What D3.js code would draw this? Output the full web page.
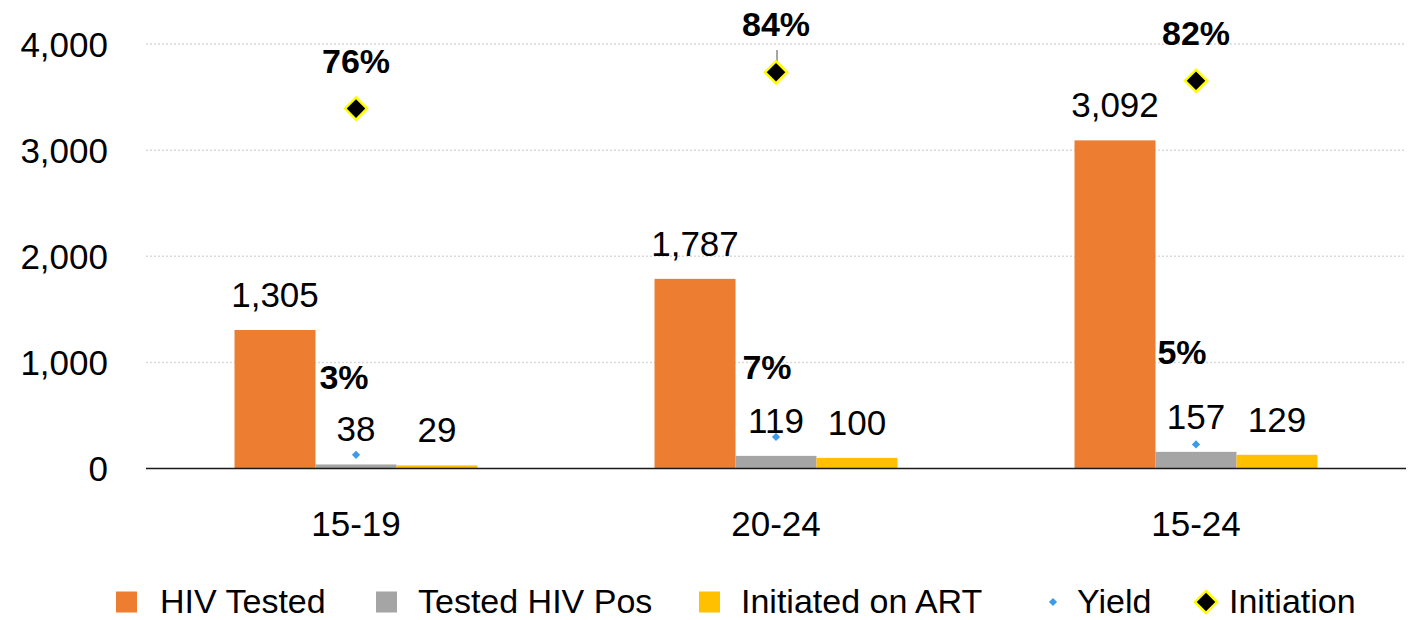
<!DOCTYPE html>
<html>
<head>
<meta charset="utf-8">
<script src="https://cdn.jsdelivr.net/npm/d3@7"></script>
<style>
  body { margin: 0; background: #fff; }
  text { font-family: "Liberation Sans", Arial, sans-serif; fill: #000; }
</style>
</head>
<body>
<script>

var ageGroups = ["15-19", "20-24", "15-24"];
var hivTested = [1305, 1787, 3092];
var testedPos = [38, 119, 157];
var initiatedArt = [29, 100, 129];
var yieldPct = [0.029, 0.067, 0.051];
var yieldLabels = ["3%", "7%", "5%"];
var initiationPct = [0.763, 0.840, 0.822];
var initiationLabels = ["76%", "84%", "82%"];
var yTicks = [0, 1000, 2000, 3000, 4000];

var barSeries = [
  { name: "HIV Tested", values: hivTested, color: "#ED7D31" },
  { name: "Tested HIV Pos", values: testedPos, color: "#A5A5A5" },
  { name: "Initiated on ART", values: initiatedArt, color: "#FFC000" }
];

// yield labels were dragged by hand in the original, keep the nudges apart
var yieldNudge = [[-12, -66], [-9, -58], [-14, -80]];

var W = 1413, H = 620;
var plotLeft = 146, plotRight = 1406, plotTop = 44, plotBottom = 468.5;

var svg = d3.select("body").append("svg")
    .attr("width", W)
    .attr("height", H);

var x = d3.scaleBand().domain(ageGroups).range([plotLeft, plotRight]).paddingInner(0).paddingOuter(0);
var inner = d3.scaleBand().domain(barSeries.map(function(s){ return s.name; }))
    .range([0, x.bandwidth()]).paddingInner(0).paddingOuter(1.093);
var y = d3.scaleLinear().domain([0, 4000]).range([plotBottom, plotTop]);
var y2 = d3.scaleLinear().domain([0, 0.9]).range([plotBottom, plotTop]);

// gridlines
svg.append("g").selectAll("line")
  .data(yTicks.filter(function(d){ return d > 0; }))
  .enter().append("line")
  .attr("x1", plotLeft).attr("x2", plotRight)
  .attr("y1", function(d){ return y(d); }).attr("y2", function(d){ return y(d); })
  .attr("stroke", "#d9d9d9")
  .attr("stroke-width", 1.5)
  .attr("stroke-dasharray", "2,2");

// y axis labels
var yAxis = d3.axisLeft(y).tickValues(yTicks).tickSize(0).tickPadding(0).tickFormat(d3.format(","));
var ga = svg.append("g").attr("transform", "translate(108,0)").call(yAxis);
ga.select(".domain").remove();
ga.selectAll("text").attr("font-size", 35).attr("font-family", "Liberation Sans, Arial, sans-serif")
  .attr("fill", "#000").attr("dy", "0.35em");

// bars
barSeries.forEach(function(s){
  var g = svg.append("g");
  g.selectAll("rect")
    .data(s.values)
    .enter().append("rect")
    .attr("x", function(d, i){ return x(ageGroups[i]) + inner(s.name); })
    .attr("width", inner.bandwidth())
    .attr("y", function(d){ return y(d); })
    .attr("height", function(d){ return plotBottom - y(d); })
    .attr("fill", s.color);

  g.selectAll("text")
    .data(s.values)
    .enter().append("text")
    .attr("x", function(d, i){ return x(ageGroups[i]) + inner(s.name) + inner.bandwidth() / 2; })
    .attr("y", function(d){ return y(d) - 23; })
    .attr("text-anchor", "middle")
    .attr("font-size", 35)
    .text(function(d){ return d3.format(",")(d); });
});

// baseline
svg.append("line")
  .attr("x1", plotLeft).attr("x2", plotRight)
  .attr("y1", y(0)).attr("y2", y(0))
  .attr("stroke", "#1a1a1a").attr("stroke-width", 1.5);

// category labels
svg.append("g").selectAll("text")
  .data(ageGroups)
  .enter().append("text")
  .attr("x", function(d){ return x(d) + x.bandwidth() / 2; })
  .attr("y", 536)
  .attr("text-anchor", "middle")
  .attr("font-size", 35)
  .text(function(d){ return d; });

var bigDiamond = d3.symbol().type(d3.symbolSquare).size(245);
var smallDiamond = d3.symbol().type(d3.symbolSquare).size(34);

function cx(i) { return x(ageGroups[i]) + x.bandwidth() / 2; }

// leader line for the middle initiation label
svg.append("line")
  .attr("x1", cx(1) + 1).attr("x2", cx(1) + 1)
  .attr("y1", 50).attr("y2", y2(initiationPct[1]))
  .attr("stroke", "#a6a6a6").attr("stroke-width", 2);

// yield points
svg.append("g").selectAll("path")
  .data(yieldPct)
  .enter().append("path")
  .attr("d", smallDiamond)
  .attr("transform", function(d, i){ return "translate(" + cx(i) + "," + y2(d) + ") rotate(45)"; })
  .attr("fill", "#3D9BE9");

svg.append("g").selectAll("text")
  .data(yieldPct)
  .enter().append("text")
  .attr("x", function(d, i){ return cx(i) + yieldNudge[i][0]; })
  .attr("y", function(d, i){ return y2(d) + yieldNudge[i][1]; })
  .attr("text-anchor", "middle")
  .attr("font-size", 34)
  .attr("font-weight", "bold")
  .text(function(d, i){ return yieldLabels[i]; });

// initiation points
svg.append("g").selectAll("path")
  .data(initiationPct)
  .enter().append("path")
  .attr("d", bigDiamond)
  .attr("transform", function(d, i){ return "translate(" + cx(i) + "," + y2(d) + ") rotate(45)"; })
  .attr("fill", "#000")
  .attr("stroke", "#FFFF00")
  .attr("stroke-width", 2.5);

svg.append("g").selectAll("text")
  .data(initiationPct)
  .enter().append("text")
  .attr("x", function(d, i){ return cx(i); })
  .attr("y", function(d){ return y2(d) - 36; })
  .attr("text-anchor", "middle")
  .attr("font-size", 34)
  .attr("font-weight", "bold")
  .text(function(d, i){ return initiationLabels[i]; });

// legend
var legendItems = [
  { name: "HIV Tested", kind: "square", color: "#ED7D31", sx: 116, tx: 160 },
  { name: "Tested HIV Pos", kind: "square", color: "#A5A5A5", sx: 376, tx: 418 },
  { name: "Initiated on ART", kind: "square", color: "#FFC000", sx: 699, tx: 741 },
  { name: "Yield", kind: "small", color: "#3D9BE9", sx: 1053, tx: 1077 },
  { name: "Initiation", kind: "big", color: "#000", sx: 1206, tx: 1229 }
];
var legendY = 602;

var lg = svg.append("g");
legendItems.forEach(function(it){
  if (it.kind === "square") {
    lg.append("rect")
      .attr("x", it.sx).attr("y", legendY - 10.5)
      .attr("width", 21).attr("height", 21)
      .attr("fill", it.color);
  } else if (it.kind === "small") {
    lg.append("path").attr("d", smallDiamond)
      .attr("transform", "translate(" + it.sx + "," + legendY + ") rotate(45)")
      .attr("fill", it.color);
  } else {
    lg.append("path").attr("d", bigDiamond)
      .attr("transform", "translate(" + it.sx + "," + legendY + ") rotate(45)")
      .attr("fill", it.color)
      .attr("stroke", "#FFFF00").attr("stroke-width", 2.5);
  }
  lg.append("text")
    .attr("x", it.tx).attr("y", legendY + 11)
    .attr("font-size", 34)
    .text(it.name);
});

</script>
</body>
</html>
